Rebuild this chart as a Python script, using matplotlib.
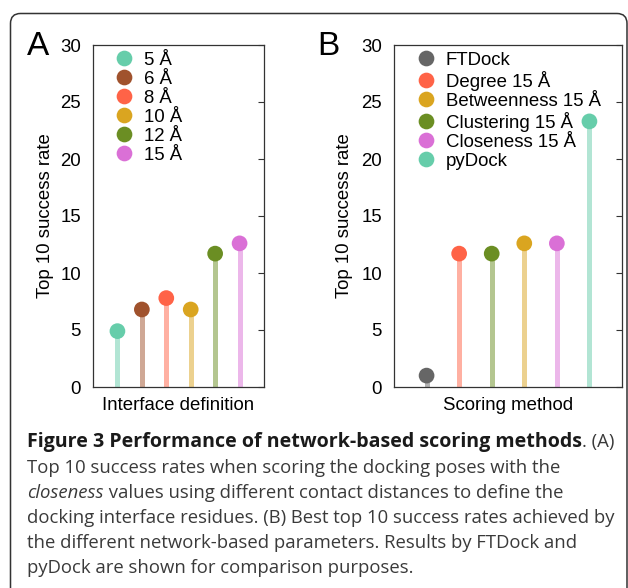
import matplotlib
matplotlib.use("Agg")
import matplotlib.pyplot as plt
from matplotlib.lines import Line2D
from matplotlib.patches import FancyBboxPatch
from matplotlib.transforms import IdentityTransform

W, H, DPI = 628, 588, 100

# ---------------- data ----------------
a_labels = ["5 Å", "6 Å", "8 Å", "10 Å", "12 Å", "15 Å"]
a_values = [4.9, 6.8, 7.8, 6.8, 11.7, 12.6]
a_colors = ["#66CDAA", "#A0522D", "#FF6347", "#DAA520", "#6B8E23", "#DA70D6"]

b_labels = ["FTDock", "Degree 15 Å", "Clustering 15 Å", "Betweenness 15 Å",
            "Closeness 15 Å", "pyDock"]
b_values = [1.0, 11.7, 11.7, 12.6, 12.6, 23.3]
b_colors = ["#666666", "#FF6347", "#6B8E23", "#DAA520", "#DA70D6", "#66CDAA"]
b_legend_order = [0, 1, 3, 2, 4, 5]
a_legend_order = [0, 1, 2, 3, 4, 5]

y_ticks = [0, 5, 10, 15, 20, 25, 30]

caption_lines = [
    [("Figure 3 Performance of network-based scoring methods", "bold"), (". (A)", "normal")],
    [("Top 10 success rates when scoring the docking poses with the", "normal")],
    [("closeness", "italic"), (" values using different contact distances to define the", "normal")],
    [("docking interface residues. (B) Best top 10 success rates achieved by", "normal")],
    [("the different network-based parameters. Results by FTDock and", "normal")],
    [("pyDock are shown for comparison purposes.", "normal")],
]

# ---------------- style ----------------
FONT = "Liberation Sans"
FS = 13.4
plt.rcParams["font.family"] = [FONT, "DejaVu Sans"]

fig = plt.figure(figsize=(W / DPI, H / DPI), dpi=DPI)


def px_rect(x0, y0, x1, y1):
    return [x0 / W, 1 - y1 / H, (x1 - x0) / W, (y1 - y0) / H]


def panel(rect_px, labels, values, colors, order, xlabel, ylab_px, leg_px):
    ax = fig.add_axes(px_rect(*rect_px))
    n = len(values)
    xs = list(range(1, n + 1))
    ax.vlines(xs, 0, values, colors=colors, lw=3.6, alpha=0.5, zorder=2)
    ax.scatter(xs, values, s=11.3 ** 2, c=colors, linewidths=0, zorder=3, clip_on=False)
    ax.set_xlim(0, n + 1)
    ax.set_ylim(0, 30)
    ax.set_xticks([])
    ax.set_yticks(y_ticks)
    ax.tick_params(axis="y", left=False, right=True, direction="in", length=4.5,
                   width=0.8, color="#333333", labelsize=FS, pad=8.6)
    for sp in ax.spines.values():
        sp.set_linewidth(0.9)
        sp.set_color("#333333")
    hpx = rect_px[3] - rect_px[1]
    wpx = rect_px[2] - rect_px[0]
    ax.set_xlabel(xlabel, fontsize=FS)
    ax.xaxis.set_label_coords(0.5, -(397 - rect_px[3]) / hpx)
    ax.set_ylabel("Top 10 success rate", fontsize=FS)
    ax.yaxis.set_label_coords((ylab_px - rect_px[0]) / wpx, 0.5)

    handles = [Line2D([], [], marker="o", ls="none", color=colors[i],
                      markersize=11.3, markeredgewidth=0) for i in order]
    labs = [labels[i] for i in order]
    ax.legend(handles, labs, loc="upper left",
              bbox_to_anchor=((leg_px[0] - rect_px[0]) / wpx, 1 - (leg_px[1] - rect_px[1]) / hpx),
              frameon=False, fontsize=FS, borderpad=0, borderaxespad=0,
              handlelength=0.8, handletextpad=0.67, labelspacing=0.107)
    return ax


axA = panel((93, 45, 264, 387), a_labels, a_values, a_colors, a_legend_order,
            "Interface definition", 54, (116.5, 51.5))
axB = panel((394, 45, 622, 387), b_labels, b_values, b_colors, b_legend_order,
            "Scoring method", 353, (418.5, 51.5))

# panel letters
fig.text(27 / W, 1 - 55 / H, "A", fontsize=24, va="baseline", ha="left")
fig.text(317 / W, 1 - 55 / H, "B", fontsize=24, va="baseline", ha="left")

# border
border = FancyBboxPatch((10.5, -20), 616.5, H - 13.5 + 20,
                        boxstyle="round,pad=0,rounding_size=10",
                        transform=IdentityTransform(), fill=False,
                        ec="#333333", lw=1.1)
fig.add_artist(border)

# caption
CAP_FONT = ["Open Sans", "DejaVu Sans"]
styles = {
    "bold": dict(fontweight="bold", color="#1a1a1a"),
    "normal": dict(fontweight="normal", color="#3a3a3a"),
    "italic": dict(fontweight="normal", fontstyle="italic", color="#3a3a3a"),
}
renderer = fig.canvas.get_renderer()


def text_width(s, fs, st):
    t = fig.text(0, 0, s, family=CAP_FONT, fontsize=fs, **styles[st])
    w = t.get_window_extent(renderer).width
    t.remove()
    return w


CAP_X0, CAP_X1 = 27.0, 615.0
# regular size fitted so that line 4 fills the caption width
CAP_FS = 10.0 * (CAP_X1 - CAP_X0) / text_width(caption_lines[3][0][0], 10.0, "normal")
# bold size fitted so that line 1 fills the caption width
rest = text_width(caption_lines[0][1][0], CAP_FS, "normal")
BOLD_FS = 10.0 * (CAP_X1 - CAP_X0 - rest) / text_width(caption_lines[0][0][0], 10.0, "bold")
sizes = {"bold": BOLD_FS, "normal": CAP_FS, "italic": CAP_FS}

baselines = [447, 473, 498, 523, 548, 573]
for line, base in zip(caption_lines, baselines):
    x = CAP_X0
    for seg, st in line:
        t = fig.text(x / W, 1 - base / H, seg, va="baseline", ha="left",
                     family=CAP_FONT, fontsize=sizes[st], **styles[st])
        x = t.get_window_extent(renderer).x1

fig.savefig("out.png", dpi=DPI)
